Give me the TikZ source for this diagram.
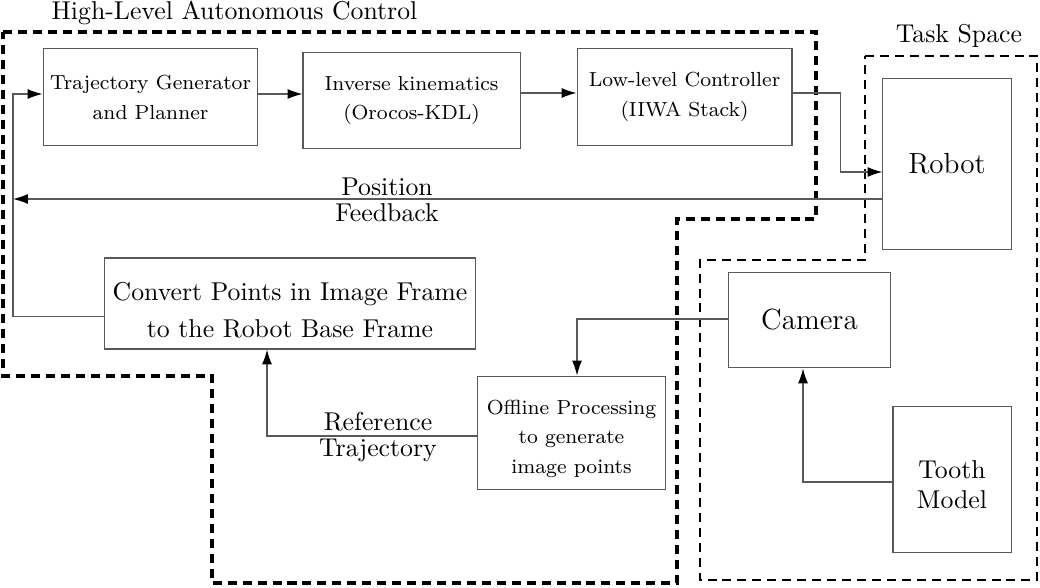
\documentclass[tikz,border=0pt]{standalone}
\usepackage{amsmath}
\usepackage{tikz}
\usetikzlibrary{arrows.meta,calc}

\begin{document}
\begin{tikzpicture}[x=0.388pt,y=-0.388pt,>={Latex[length=5.8pt,width=3.9pt,color=black]}]
  \tikzstyle{block}=[rectangle,draw=black!65,inner sep=0pt,align=center,
              font=\fontsize{7.9}{11.6}\selectfont]
  \tikzstyle{bigblock}=[block,font=\fontsize{10}{14.4}\selectfont]
  \tikzstyle{hugeblock}=[block,font=\fontsize{11.3}{13}\selectfont]
  \tikzstyle{line}=[draw=black!65,line width=0.5pt]
  \tikzstyle{region}=[draw=black,line width=1.3pt,dash pattern=on 3.5pt off 2.3pt]
  \tikzstyle{tag}=[align=center,inner sep=0pt,font=\fontsize{10}{10}\selectfont]
  \useasboundingbox (0,0) rectangle (1040,588);
  % dashed regions
  \draw [region] (3,32) -- (816,32) -- (816,219) -- (677,219) -- (677,583)
    -- (212,583) -- (212,376) -- (3,376) -- cycle;
  \draw [region,line width=0.9pt] (865,56) -- (1037,56) -- (1037,580)
    -- (700,580) -- (700,260) -- (865,260) -- cycle;
  \node [anchor=base] (hlc) at (234.5,20) {High-Level Autonomous Control};
  \node [anchor=base] (ts) at (959,43) {Task Space};
  % blocks
  \node [block,minimum width=83.4pt,minimum height=38pt] (traj) at (150.5,97) {Trajectory Generator\\and Planner};
  \node [block,minimum width=84.2pt,minimum height=37.6pt] (ik) at (411.5,100.5) {Inverse kinematics\\(Orocos-KDL)};
  \node [block,minimum width=83.4pt,minimum height=38pt] (low) at (684.5,97) {Low-level Controller\\(IIWA Stack)};
  \node [hugeblock,minimum width=49.7pt,minimum height=66.7pt] (robot) at (947,164) {Robot};
  \node [bigblock,minimum width=143.6pt,minimum height=35.3pt] (conv) at (290,303.5) {\rule{0pt}{12.3pt}Convert Points in Image Frame\\to the Robot Base Frame};
  \node [hugeblock,minimum width=62.5pt,minimum height=37.2pt] (cam) at (809.5,320) {Camera};
  \node [block,minimum width=73.3pt,minimum height=44.2pt,font=\fontsize{7.9}{11.3}\selectfont] (offl) at (571.5,433) {\rule{0pt}{10.1pt}Offline Processing\\to generate\\image points};
  \node [bigblock,minimum width=45.8pt,minimum height=56.3pt,font=\fontsize{10}{11.6}\selectfont] (tooth) at (952,479.5) {\rule{0pt}{10.7pt}Tooth\\Model};
  \coordinate (bus) at (13,199);
  % connectors
  \draw [line,->] ($(traj.east)+(0,-3)$) -- ($(ik.west)+(0,-6.5)$);
  \draw [line,->] ($(ik.east)+(0,-7.5)$) -- ($(low.west)+(0,-4)$);
  \draw [line,->] ($(low.east)+(0,-4)$) -- ++(48,0) |- ($(robot.west)+(0,8)$);
  \draw [line,->] ($(robot.west)+(0,35)$) -- (bus);
  \draw [line,->] ($(conv.west)+(0,13)$) -| (bus) |- ($(traj.west)+(0,-3)$);
  \draw [line,->] ($(cam.west)+(0,-1)$) -| ($(offl.north)+(5.5,0)$);
  \draw [line,->] ($(offl.west)+(0,3)$) -| ($(conv.south)+(-23,0)$);
  \draw [line,->] ($(tooth.west)+(0,2.5)$) -| ($(cam.south)+(-6.5,0)$);
  \node [tag] (pf) at (387,200) {Position\\Feedback};
  \node [tag] (rt) at (378,437) {Reference\\Trajectory};
\end{tikzpicture}
\end{document}
